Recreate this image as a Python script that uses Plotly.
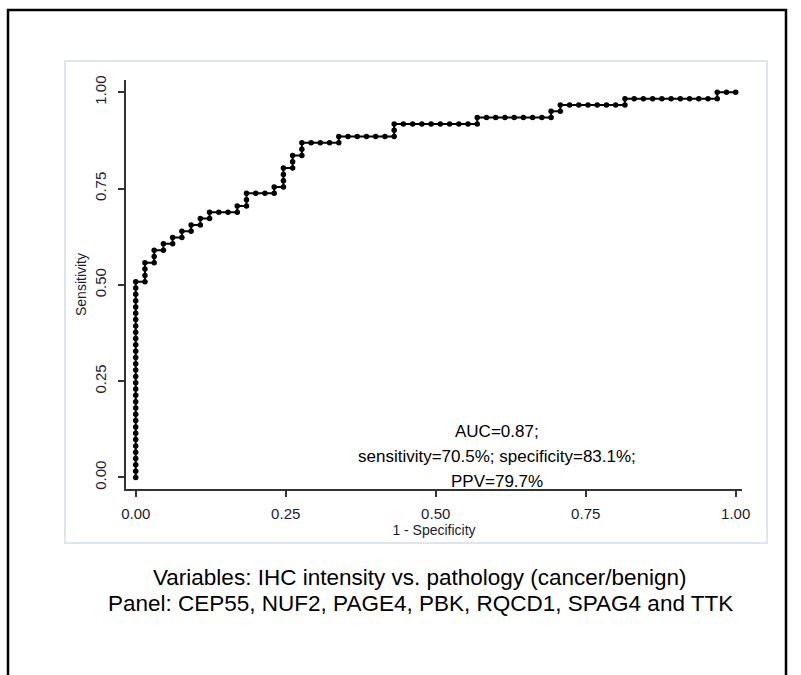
import plotly.graph_objects as go

# ROC curve points (counts of false positives / true positives)
n_neg = 65
n_pos = 61
fp_counts = [0, 0, 0, 0, 0, 0, 0, 0, 0, 0, 0, 0, 0, 0, 0, 0, 0, 0, 0, 0, 0, 0, 0, 0, 0, 0, 0, 0, 0, 0, 0, 0,
             1, 1, 1, 1, 2, 2, 2, 3, 3, 4, 4, 5, 5, 6, 6, 7, 7, 8, 8,
             9, 10, 11, 11, 12, 12, 12, 13, 14, 15, 15, 16, 16, 16, 16,
             17, 17, 17, 18, 18, 18, 19, 20, 21, 22, 22,
             23, 24, 25, 26, 27, 28, 28, 28,
             29, 30, 31, 32, 33, 34, 35, 36, 37, 37,
             38, 39, 40, 41, 42, 43, 44, 45, 45, 46, 46,
             47, 48, 49, 50, 51, 52, 53, 53,
             54, 55, 56, 57, 58, 59, 60, 61, 62, 63, 63, 64, 65]
tp_counts = [0, 1, 2, 3, 4, 5, 6, 7, 8, 9, 10, 11, 12, 13, 14, 15, 16, 17, 18, 19, 20, 21, 22, 23, 24, 25, 26, 27, 28, 29, 30, 31,
             31, 32, 33, 34, 34, 35, 36, 36, 37, 37, 38, 38, 39, 39, 40, 40, 41, 41, 42,
             42, 42, 42, 43, 43, 44, 45, 45, 45, 45, 46, 46, 47, 48, 49,
             49, 50, 51, 51, 52, 53, 53, 53, 53, 53, 54,
             54, 54, 54, 54, 54, 54, 55, 56,
             56, 56, 56, 56, 56, 56, 56, 56, 56, 57,
             57, 57, 57, 57, 57, 57, 57, 57, 58, 58, 59,
             59, 59, 59, 59, 59, 59, 59, 60,
             60, 60, 60, 60, 60, 60, 60, 60, 60, 60, 61, 61, 61]

one_minus_spec = [c / n_neg for c in fp_counts]
sensitivity = [c / n_pos for c in tp_counts]

tick_vals = [0, 0.25, 0.5, 0.75, 1.0]
tick_text = ["0.00", "0.25", "0.50", "0.75", "1.00"]

stats_lines = ["AUC=0.87;", "sensitivity=70.5%; specificity=83.1%;", "PPV=79.7%"]
caption_lines = ["Variables: IHC intensity vs. pathology (cancer/benign)",
                 "Panel: CEP55, NUF2, PAGE4, PBK, RQCD1, SPAG4 and TTK"]

W, H = 801, 675
L, R, T, B = 126, 742, 80, 489


def px(xp):
    return (xp - L) / (R - L)


def py(yp):
    return (B - yp) / (B - T)


fig = go.Figure()
fig.add_trace(go.Scatter(
    x=one_minus_spec, y=sensitivity, mode="lines+markers",
    line=dict(color="black", width=2),
    marker=dict(color="black", size=5.5, symbol="circle"),
    showlegend=False, hoverinfo="skip"))

axis_font = dict(family="Liberation Sans, Arial", size=15, color="#1c1c30")
fig.update_layout(
    width=W, height=H,
    margin=dict(l=L, r=W - R, t=T, b=H - B, pad=0),
    paper_bgcolor="white", plot_bgcolor="white",
    font=dict(family="Liberation Sans, Arial"),
    xaxis=dict(range=[-0.0162, 1.0105], tickvals=tick_vals, ticktext=tick_text,
               showgrid=False, zeroline=False, showline=True, linecolor="#333333", linewidth=2,
               ticks="outside", ticklen=6, tickwidth=1.5, tickcolor="#333333",
               tickfont=axis_font, ticklabelstandoff=4,
               title=dict(text="1 - Specificity", font=dict(family="Liberation Sans Narrow, Liberation Sans", size=14, color="#1c1c30"), standoff=0)),
    yaxis=dict(range=[-0.030, 1.032], tickvals=tick_vals, ticktext=tick_text,
               tickangle=-90,
               showgrid=False, zeroline=False, showline=True, linecolor="#333333", linewidth=2,
               ticks="outside", ticklen=6, tickwidth=1.5, tickcolor="#333333",
               tickfont=axis_font, ticklabelstandoff=6,
               title=dict(text="Sensitivity", font=dict(family="Liberation Sans Narrow, Liberation Sans", size=14, color="#1c1c30"), standoff=2)),
)

# stats annotation
for i, txt in enumerate(stats_lines):
    fig.add_annotation(x=px(497), y=py(431 + 25 * i), xref="paper", yref="paper",
                       text=txt, showarrow=False, xanchor="center", yanchor="middle",
                       font=dict(family="Liberation Sans, Arial", size=17, color="black"))

# caption
for i, txt in enumerate(caption_lines):
    fig.add_annotation(x=px(420), y=py(577 + 26 * i), xref="paper", yref="paper",
                       text=txt, showarrow=False, xanchor="center", yanchor="middle",
                       font=dict(family="Liberation Sans, Arial", size=22.5, color="black"))

# graph region border (light) and outer black frame
fig.add_shape(type="rect", xref="paper", yref="paper",
              x0=px(65), x1=px(767), y0=py(543), y1=py(61),
              line=dict(color="#dfe6eb", width=2), layer="below")
fig.add_shape(type="rect", xref="paper", yref="paper",
              x0=px(8), x1=px(786), y0=py(700), y1=py(10),
              line=dict(color="black", width=2.5), layer="above")

fig.write_html("out.html")
